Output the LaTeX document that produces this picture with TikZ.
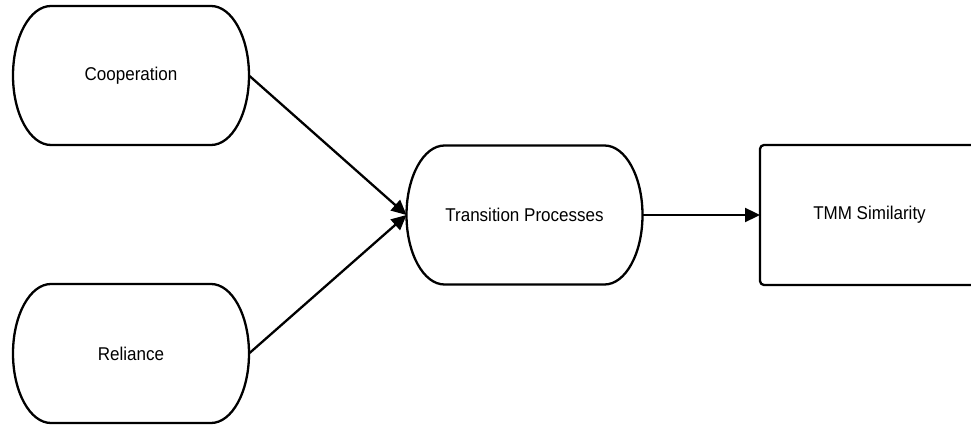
\documentclass[tikz,border=0pt]{standalone}
\usepackage{fontspec}
\setmainfont{Liberation Sans}[FakeStretch=0.92]
\usepackage{tikz}
\usetikzlibrary{arrows.meta}

\tikzset{
  box/.style={inner sep=0pt, outer sep=0pt, font=\fontsize{18.5}{22}\selectfont},
  capsule/.style={box, minimum width=236pt, minimum height=139pt},
  outline/.style={line width=2.3pt, line join=round},
  link/.style={line width=2.3pt, -{Triangle[length=15pt, width=14pt]}}
}

% stadium outline with elliptic ends around a named node
\newcommand{\drawcapsule}[1]{%
  \draw[outline] ([xshift=38pt]#1.north west) -- ([xshift=-38pt]#1.north east)
    arc[start angle=90, end angle=-90, x radius=38pt, y radius=69.5pt]
    -- ([xshift=38pt]#1.south west)
    arc[start angle=270, end angle=90, x radius=38pt, y radius=69.5pt] -- cycle;}

\begin{document}
\begin{tikzpicture}[x=1pt, y=-1pt]
                    \useasboundingbox (0,0) rectangle (971,427);
                    \node[capsule] (coop) at (131,75.5) {Cooperation};
                    \node[capsule] (reli) at (131,353.5) {Reliance};
                    \node[capsule] (trans) at (524.5,215) {Transition Processes};
                    \node[box, minimum width=219pt, minimum height=140pt] (tmm) at (869.5,215) {TMM Similarity};
                    \drawcapsule{coop}
                    \drawcapsule{reli}
                    \drawcapsule{trans}
                    \draw[outline, rounded corners=4pt] (tmm.south west) rectangle (tmm.north east);
                    \draw[link] (coop.east) -- (trans.west);
                    \draw[link] (reli.east) -- (trans.west);
                    \draw[link] (trans.east) -- (tmm.west);
                \end{tikzpicture}
\end{document}
